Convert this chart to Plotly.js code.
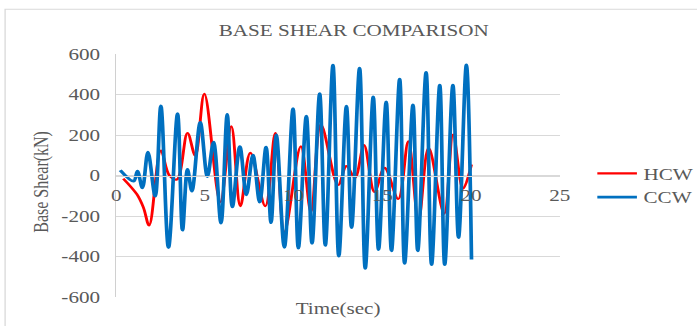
<!DOCTYPE html>
<html>
<head>
<meta charset="utf-8">
<script src="https://cdn.plot.ly/plotly-3.0.1.min.js"></script>
<style>
  html, body { margin: 0; padding: 0; background: #ffffff; overflow: hidden; width: 697px; height: 326px; }
  #wrap { width: 697px; height: 326px; overflow: hidden; }
  #chart { width: 528px; height: 326px; transform: scaleX(1.32); transform-origin: 0 0; }
</style>
</head>
<body>
<div id="wrap"><div id="chart"></div></div>
<script>
// ---- data ----
const hcwTime  = [0.40, 1.17, 1.54, 1.86, 2.52, 3.00, 3.42, 4.02, 4.46, 4.97, 5.87, 6.49, 7.00, 7.56, 8.41, 8.97, 9.48, 10.41, 10.98, 11.54, 12.51, 12.98, 13.46, 13.97, 14.56, 15.13, 15.90, 16.47, 17.04, 17.61, 18.49, 18.99, 19.55, 20.03];
const hcwShear = [-15, -93, -159, -246, 123, 0, -20, 210, 98, 403, -131, 243, -151, 112, -151, 210, -280, 144, -180, 251, -47, 46, -11, 150, -81, 38, -116, 169, -221, 136, -188, 202, -65, 54];

const ccwTime  = [0.23, 0.98, 1.20, 1.48, 1.79, 2.20, 2.52, 2.95, 3.46, 3.74, 4.02, 4.27, 4.74, 5.14, 5.49, 5.91, 6.26, 6.55, 6.97, 7.34, 7.71, 8.09, 8.45, 8.73, 9.03, 9.48, 9.97, 10.27, 10.72, 11.04, 11.47, 11.79, 12.22, 12.55, 12.98, 13.27, 13.72, 14.04, 14.49, 14.79, 15.22, 15.52, 15.98, 16.26, 16.73, 17.00, 17.47, 17.78, 18.24, 18.52, 18.98, 19.30, 19.74, 20.03];
const ccwShear = [26, -28, 21, -61, 115, -102, 344, -356, 305, -270, 30, -77, 262, -5, 165, -235, 302, -155, 143, -95, 100, -131, 140, -233, 200, -355, 330, -358, 293, -335, 404, -345, 545, -398, 342, -257, 530, -458, 388, -366, 363, -372, 476, -434, 349, -372, 509, -440, 446, -440, 446, -307, 546, -415];

const seriesNames = ['HCW', 'CCW'];
const xTickVals = [0, 5, 10, 15, 20, 25];
const xTickText = ['0', '5', '10', '15', '20', '25'];
const yTickVals = [-600, -400, -200, 0, 200, 400, 600];
const yTickText = ['-600', '-400', '-200', '0', '200', '400', '600'];
const chartTitle = 'BASE SHEAR COMPARISON';
const xTitle = 'Time(sec)';
const yTitle = 'Base Shear(kN)';

const FONT = '"Liberation Serif", "Times New Roman", serif';
const GREY = '#595959';

const traces = [
  { x: hcwTime, y: hcwShear, name: seriesNames[0], type: 'scatter', mode: 'lines',
    line: { color: '#FF0000', width: 2.2, shape: 'spline', smoothing: 1 } },
  { x: ccwTime, y: ccwShear, name: seriesNames[1], type: 'scatter', mode: 'lines',
    line: { color: '#0070C0', width: 2.8, shape: 'spline', smoothing: 1 } }
];

const layout = {
  width: 528, height: 326,
  margin: { l: 88, r: 104, t: 54, b: 29, pad: 0, autoexpand: false },
  paper_bgcolor: '#ffffff', plot_bgcolor: '#ffffff',
  font: { family: FONT, size: 16, color: GREY },
  showlegend: true,
  title: { text: chartTitle, font: { family: FONT, size: 16, color: GREY },
           xref: 'container', x: 0.5076, xanchor: 'center',
           yref: 'container', y: 0.908, yanchor: 'middle' },
  xaxis: {
    range: [0, 25], tickvals: xTickVals, ticktext: xTickText,
    anchor: 'free', position: 0.5, showgrid: false, zeroline: false,
    showline: true, linecolor: '#D9D9D9', linewidth: 1,
    ticks: '', ticklabelstandoff: 5,
    tickfont: { family: FONT, size: 16, color: GREY }, fixedrange: true
  },
  yaxis: {
    range: [-600, 600], tickvals: yTickVals, ticktext: yTickText,
    showgrid: true, gridcolor: '#D9D9D9', gridwidth: 1, zeroline: false,
    showline: true, linecolor: '#D0D0D0', linewidth: 1, mirror: false,
    ticks: '', ticklabelstandoff: 8,
    tickfont: { family: FONT, size: 16, color: GREY }, fixedrange: true
  },
  legend: {
    x: 1.07, xanchor: 'left', y: 0.459, yanchor: 'middle',
    font: { family: FONT, size: 16, color: GREY },
    bgcolor: 'rgba(0,0,0,0)', borderwidth: 0, tracegroupgap: 0
  },
  annotations: [
    { text: yTitle, xref: 'paper', yref: 'paper', x: -0.1675, y: 0.473,
      textangle: -90, showarrow: false, xanchor: 'center', yanchor: 'middle',
      font: { family: FONT, size: 16, color: GREY } },
    { text: xTitle, xref: 'paper', yref: 'paper', x: 0.5007, y: -0.049,
      showarrow: false, xanchor: 'center', yanchor: 'middle',
      font: { family: FONT, size: 16, color: GREY } }
  ],
  shapes: [
    { type: 'rect', xref: 'paper', yref: 'paper', x0: -0.2504, x1: 2.0, y0: -1.0, y1: 1.184,
      line: { color: '#D9D9D9', width: 1 }, fillcolor: 'rgba(0,0,0,0)', layer: 'below' }
  ]
};

Plotly.newPlot('chart', traces, layout, { displayModeBar: false, staticPlot: true });
</script>
</body>
</html>
